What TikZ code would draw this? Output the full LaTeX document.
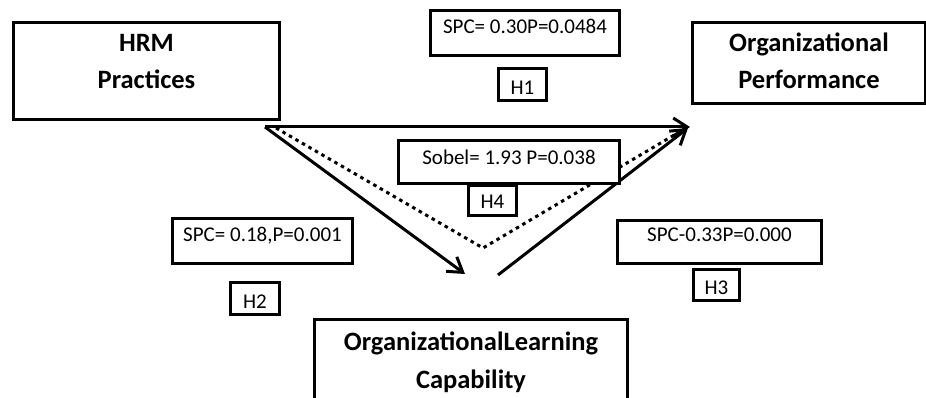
\documentclass[tikz,border=0pt]{standalone}
\usepackage{fontspec}
\setmainfont{Carlito}
\usetikzlibrary{arrows.meta, backgrounds}

\begin{document}
\begin{tikzpicture}[x=1pt, y=-1pt,
  bigbox/.style={draw, fill=white, line width=3pt, align=flush center, inner sep=0pt, anchor=north west,
                 font=\bfseries\fontsize{26.5}{37.5}\selectfont},
  statbox/.style={draw, fill=white, line width=3pt, align=flush center, inner sep=0pt, anchor=north west,
                  font=\fontsize{21}{25}\selectfont},
  hypbox/.style={statbox},
  arr/.style={line width=3pt, -{Straight Barb[length=14pt, width=18pt]}},
  dotline/.style={line width=3pt, dash pattern=on 3.5pt off 4pt}
]
\useasboundingbox (0,0) rectangle (926,398);

% the three constructs
\node[bigbox, text width=266pt, text height=29pt, text depth=68pt] (hrm) at (12,21) {HRM\\Practices};
\node[bigbox, text width=233pt, text height=29pt, text depth=52pt] (perf) at (691,21) {Organizational\\Performance};
\node[bigbox, text width=313pt, text height=31pt, text depth=53pt] (olc) at (313,318) {OrganizationalLearning\\Capability};

% path statistics and hypotheses
\node[statbox, text width=189pt, text height=22.7pt, text depth=22.3pt] (s1) at (429,9) {SPC= 0.30P=0.0484};
\node[hypbox, text width=48pt, text height=25.7pt, text depth=6.3pt] (h1) at (497,67) {H1};
\node[statbox, text width=221pt, text height=23.7pt, text depth=19.3pt] (s4) at (397,139) {Sobel= 1.93 P=0.038};
\node[hypbox, text width=48pt, text height=22.7pt, text depth=7.3pt] (h4) at (467,184) {H4};
\node[statbox, text width=180pt, text height=23pt, text depth=22pt] (s2) at (171,217) {SPC= 0.18,P=0.001};
\node[hypbox, text width=49pt, text height=25.7pt, text depth=6.3pt] (h2) at (229,281) {H2};
\node[statbox, text width=204pt, text height=21pt, text depth=22pt] (s3) at (616,219) {SPC-0.33P=0.000};
\node[hypbox, text width=46pt, text height=24.7pt, text depth=6.3pt] (h3) at (692,268) {H3};

% arrow ends
\coordinate (hrmout) at (265,127);
\coordinate (olcin) at (465,274);
\coordinate (olcout) at (498,275);
\coordinate (perfin) at (690,127);
\coordinate (perfin2) at (688,128);
\coordinate (medstart) at (276,128);
\coordinate (medmid) at (483,248);
\coordinate (medend) at (681,131);

\begin{scope}[on background layer]
\draw[arr] (hrmout) -- (perfin);
\draw[arr] (hrmout) -- (olcin);
\draw[arr] (olcout) -- (perfin2);
\draw[dotline] (medstart) -- (medmid) -- (medend);
\end{scope}
\end{tikzpicture}
\end{document}
